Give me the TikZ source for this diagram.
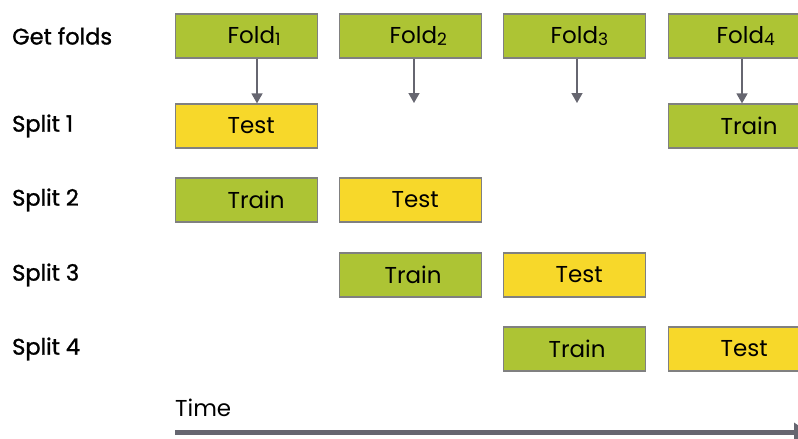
\documentclass[tikz,border=0pt]{standalone}
\usepackage{fontspec}
\setmainfont{Poppins}
\newfontfamily\labelfont[FakeBold=1.2]{Poppins}
\usetikzlibrary{arrows.meta}
\definecolor{bgreen}{RGB}{173,196,52}
\definecolor{byellow}{RGB}{247,216,42}
\definecolor{bborder}{RGB}{128,128,128}
\definecolor{arrowgray}{RGB}{102,102,112}
\newcommand{\sbs}[1]{\raisebox{-0.15ex}{\fontsize{17}{17}\selectfont #1}}
\tikzset{
  cell/.style={draw=bborder, line width=1.2pt, minimum height=44pt, inner xsep=0pt, inner ysep=0pt,
    text width=142pt, align=left, font=\fontsize{23}{23}\selectfont, anchor=west},
  trainbox/.style={cell, fill=bgreen},
  testbox/.style={cell, fill=byellow},
  rowlabel/.style={anchor=west, inner sep=0pt, font=\labelfont\fontsize{22.5}{22.5}\selectfont},
  foldarrow/.style={draw=arrowgray, line width=1.5pt, -{Triangle[width=11pt,length=10pt]}},
}
\begin{document}
\begin{tikzpicture}[x=1pt,y=1pt]
\useasboundingbox (0,0) rectangle (798,-439);
% row labels
\node[rowlabel] (lg) at (12,-36) {Get folds};
\node[rowlabel] (l1) at (12,-126) {Split 1};
\node[rowlabel] (l2) at (12,-200) {Split 2};
\node[rowlabel] (l3) at (12,-275) {Split 3};
\node[rowlabel] (l4) at (12,-349) {Split 4};
% folds
\node[trainbox] (f1) at (175,-36) {\hspace*{52pt}Fold\sbs{1}};
\node[trainbox] (f2) at (339,-36) {\hspace*{50pt}Fold\sbs{2}};
\node[trainbox] (f3) at (503,-36) {\hspace*{47pt}Fold\sbs{3}};
\node[trainbox] (f4) at (668,-36) {\hspace*{48pt}Fold\sbs{4}};
% split 1
\node[testbox] (s1a) at (175,-126) {\hspace*{52pt}Test};
\node[trainbox] (s1d) at (668,-126) {\hspace*{52pt}Train};
% split 2
\node[trainbox] (s2a) at (175,-200) {\hspace*{52pt}Train};
\node[testbox] (s2b) at (339,-200) {\hspace*{52pt}Test};
% split 3
\node[trainbox] (s3b) at (339,-275) {\hspace*{45pt}Train};
\node[testbox] (s3c) at (503,-275) {\hspace*{52pt}Test};
% split 4
\node[trainbox] (s4c) at (503,-349) {\hspace*{45pt}Train};
\node[testbox] (s4d) at (668,-349) {\hspace*{52pt}Test};
% fold arrows
\coordinate (e2) at (414,-103);
\coordinate (e3) at (577,-103);
\draw[foldarrow] (f1.south west) ++(82,0) -- ([xshift=82pt]s1a.north west);
\draw[foldarrow] (f2.south west) ++(75,0) -- (e2);
\draw[foldarrow] (f3.south west) ++(74,0) -- (e3);
\draw[foldarrow] (f4.south west) ++(74,0) -- ([xshift=74pt]s1d.north west);
% time axis
\node[anchor=west, inner sep=0pt, font=\fontsize{23}{23}\selectfont] (time) at (175,-408) {Time};
\coordinate (t0) at (175,-432);
\coordinate (t1) at (808,-432);
\draw[draw=arrowgray, line width=5pt, -{Triangle[width=18pt,length=14pt]}] (t0) -- (t1);
\end{tikzpicture}
\end{document}
